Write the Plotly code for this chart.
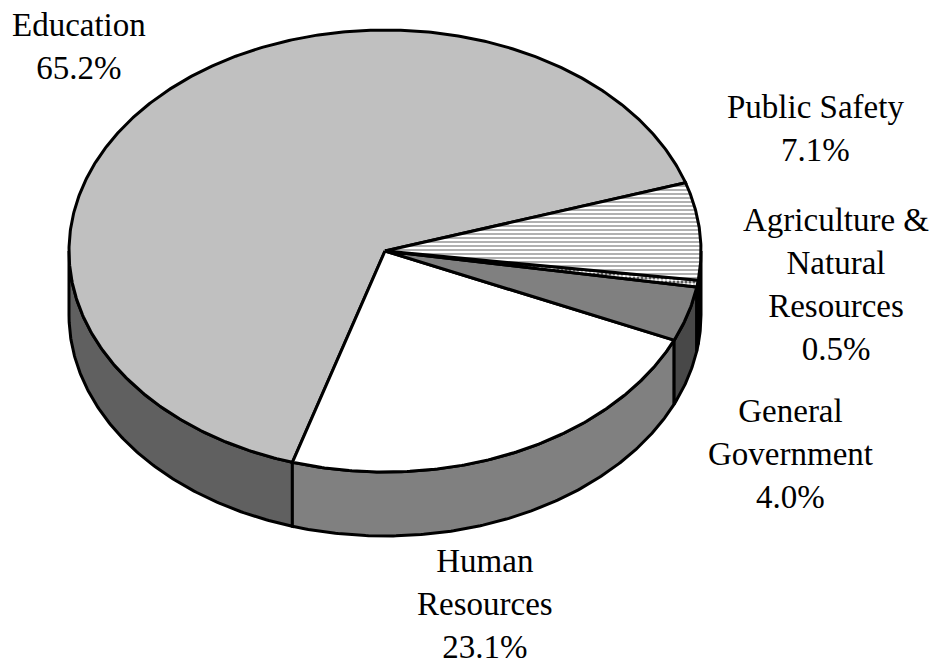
import numpy as np
import plotly.graph_objects as go

categories = ["Education", "Human Resources", "General Government", "Agriculture & Natural Resources", "Public Safety"]
values = [65.2, 23.1, 4.0, 0.5, 7.1]
label_lines = [["Education"], ["Human", "Resources"], ["General", "Government"],
               ["Agriculture &", "Natural", "Resources"], ["Public Safety"]]
top_colors = ["#c0c0c0", "#ffffff", "#808080", "#ffffff", "#ffffff"]
side_colors = ["#606060", "#808080", "#484848", "#000000", "#000000"]
patterns = [None, None, None, ".", "-"]
pattern_colors = [None, None, None, "#606060", "#b0b0b0"]
label_pos = [(79, 47), (485, 604), (790, 454), (836, 284), (815, 129)]

W, H = 939, 664
CX, CY, RX, RY, DEPTH = 385, 251, 316, 221, 64
START_DEG = 18.0


def arc(a0, a1, drop=0.0):
    t = np.radians(np.linspace(a0, a1, max(int(abs(a1 - a0) * 2), 2) + 1))
    return np.cos(t), np.sin(t) - drop


fig = go.Figure()
d = DEPTH / RY
total = sum(values)
bounds = [START_DEG]
for v in values:
    bounds.append(bounds[-1] + 360 * v / total)

# Side walls: only the part of each slice on the front half of the disc shows
for v0, v1, col in zip(bounds[:-1], bounds[1:], side_colors):
    for shift in (0, 360):
        a0, a1 = max(v0 - shift, 180), min(v1 - shift, 360)
        if a1 > a0:
            x1, y1 = arc(a0, a1)
            x2, y2 = arc(a1, a0, d)
            fig.add_trace(go.Scatter(
                x=np.r_[x1, x2, x1[0]], y=np.r_[y1, y2, y1[0]], mode="lines", fill="toself",
                fillcolor=col, line=dict(color="black", width=3), hoverinfo="skip"))

# Top face
for v0, v1, col, pat, pcol in zip(bounds[:-1], bounds[1:], top_colors, patterns, pattern_colors):
    x, y = arc(v0, v1)
    xs, ys = np.r_[0, x, 0], np.r_[0, y, 0]
    kw = dict(fillcolor=col)
    if pat:
        kw["fillpattern"] = dict(shape=pat, bgcolor="#ffffff", fgcolor=pcol,
                                 size=4, solidity=0.5, fillmode="replace")
    fig.add_trace(go.Scatter(x=xs, y=ys, mode="lines", fill="toself",
                             line=dict(color="black", width=3), hoverinfo="skip", **kw))

for lines, v, (px, py) in zip(label_lines, values, label_pos):
    fig.add_annotation(text="<br>".join(lines + [f"{v:.1f}%"]), xref="paper", yref="paper",
                       x=px / W, y=1 - py / H, xanchor="center", yanchor="middle", showarrow=False,
                       align="center", font=dict(family="Liberation Serif", size=33, color="black"))

fig.update_layout(
    width=W, height=H, margin=dict(l=0, r=0, t=0, b=0), showlegend=False,
    paper_bgcolor="white", plot_bgcolor="white",
    xaxis=dict(visible=False, range=[-CX / RX, (W - CX) / RX]),
    yaxis=dict(visible=False, range=[(CY - H) / RY, CY / RY]),
)
fig.write_html("out.html", post_script="document.body.style.margin='0';",
               config=dict(displayModeBar=False))
